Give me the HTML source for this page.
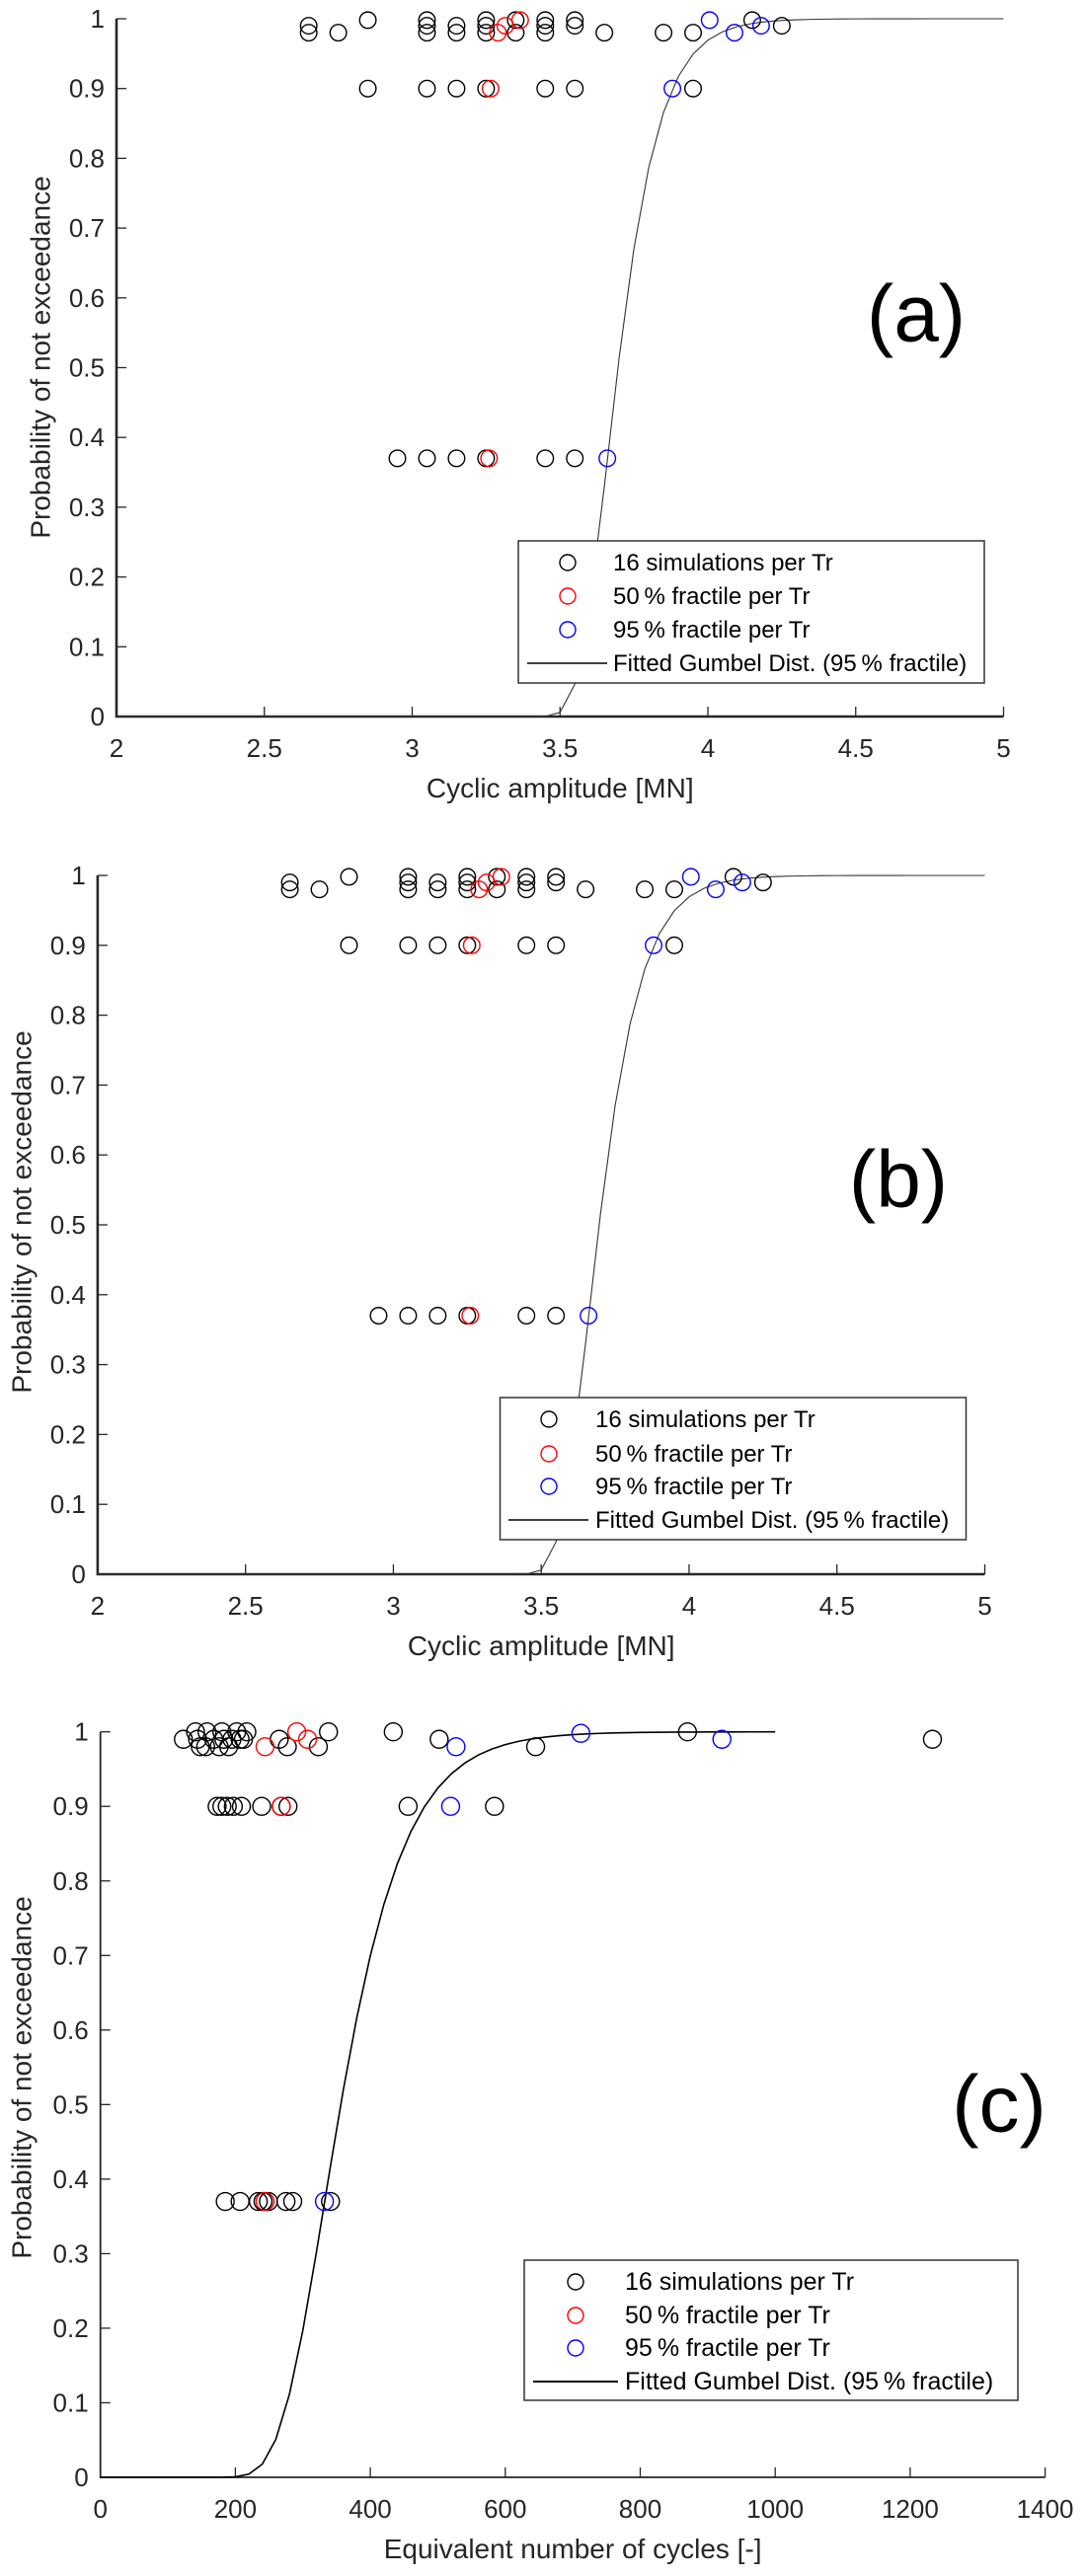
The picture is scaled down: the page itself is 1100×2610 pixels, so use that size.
<!DOCTYPE html>
<html>
<head>
<meta charset="utf-8">
<style>
  html,body{margin:0;padding:0;background:#fff;}
  svg{display:block;font-family:"Liberation Sans",Arial,sans-serif;}
</style>
</head>
<body>
<svg id="fig" width="1100" height="2610" viewBox="0 0 1100 2610" xmlns="http://www.w3.org/2000/svg"></svg>
<script>
// ---------- Panel (a) / (b) data: cyclic amplitude [MN] ----------
const ampSimX = [2.65,2.65,2.75,2.85,2.85,3.05,3.05,3.05,3.05,3.05,3.15,3.15,3.15,3.15,3.25,3.25,3.25,3.25,3.25,3.35,3.35,3.45,3.45,3.45,3.45,3.45,3.55,3.55,3.55,3.55,3.65,3.85,3.95,3.95,4.15,4.25,2.95];
const ampSimP = [0.99,0.98,0.98,0.998,0.9,0.998,0.99,0.98,0.9,0.37,0.99,0.98,0.9,0.37,0.998,0.99,0.98,0.9,0.37,0.998,0.98,0.998,0.99,0.98,0.9,0.37,0.998,0.99,0.9,0.37,0.98,0.98,0.98,0.9,0.998,0.99,0.37];
const amp50X = [3.265,3.29,3.315,3.365,3.26];
const amp50P = [0.9,0.98,0.99,0.998,0.37];
const amp95X = [3.66,3.88,4.09,4.18,4.006];
const amp95P = [0.37,0.9,0.98,0.99,0.998];
const ampGumbel = [3.66, 0.098]; // location, scale of fitted Gumbel
const ampXTicks = [2,2.5,3,3.5,4,4.5,5];
const ampXTickLabels = ["2","2.5","3","3.5","4","4.5","5"];

// ---------- Panel (c) data: equivalent number of cycles ----------
const cycSimX = [123,141,144,148,158,156,168,176,180,183,190,195,202,207,212,217,265,277,323,338,434,502,645,870,1233,
                 173,180,188,197,209,239,268,278,456,584,
                 185,207,234,241,249,275,285,341];
const cycSimP = [0.99,1.0,0.99,0.98,1.0,0.98,0.99,0.98,1.0,0.99,0.98,0.99,1.0,0.99,0.99,1.0,0.99,0.98,0.98,1.0,1.0,0.99,0.98,1.0,0.99,
                 0.9,0.9,0.9,0.9,0.9,0.9,0.9,0.9,0.9,0.9,
                 0.37,0.37,0.37,0.37,0.37,0.37,0.37,0.37];
const cyc50X = [244,291,307,268,244];
const cyc50P = [0.98,1.0,0.99,0.9,0.37];
const cyc95X = [332,519,527,712,921];
const cyc95P = [0.37,0.9,0.98,0.998,0.99];
const cycGumbel = [332, 66];
const cycXTicks = [0,200,400,600,800,1000,1200,1400];
const cycXTickLabels = ["0","200","400","600","800","1000","1200","1400"];

const yTicks = [0,0.1,0.2,0.3,0.4,0.5,0.6,0.7,0.8,0.9,1];
const yTickLabels = ["0","0.1","0.2","0.3","0.4","0.5","0.6","0.7","0.8","0.9","1"];

const NS = "http://www.w3.org/2000/svg";
const svg = document.getElementById('fig');
function mk(tag, attrs, parent, text){
  const e = document.createElementNS(NS, tag);
  for (const k in attrs) e.setAttribute(k, attrs[k]);
  if (text !== undefined) e.textContent = text;
  (parent || svg).appendChild(e);
  return e;
}

function panel(cfg){
  const g = mk('g', {});
  
  
  const sx = v => cfg.x0 + (v - cfg.xmin) / (cfg.xmax - cfg.xmin) * (cfg.x1 - cfg.x0);
  const sy = v => cfg.y0 - v * (cfg.y0 - cfg.y1);
  const axCol = '#262626';

  const ax = mk('path', {d:`M${cfg.x0},${cfg.y1} L${cfg.x0},${cfg.y0} L${cfg.x1},${cfg.y0}`, fill:'none', stroke:axCol, 'stroke-width':cfg.axw}, g);
  
  

  yTicks.forEach((t,i)=>{
    const y = sy(t);
    mk('line', {x1:cfg.x0, x2:cfg.x0+10, y1:y, y2:y, stroke:axCol, 'stroke-width':1.3}, g);
    const lab = mk('text', {x:cfg.x0-12, y:y+9, 'text-anchor':'end', 'font-size':26, fill:axCol}, g, yTickLabels[i]);
    
    
  });
  cfg.xticks.forEach((t,i)=>{
    const x = sx(t);
    mk('line', {x1:x, x2:x, y1:cfg.y0, y2:cfg.y0-10, stroke:axCol, 'stroke-width':1.3}, g);
    const lab = mk('text', {x:x, y:cfg.y0+41, 'text-anchor':'middle', 'font-size':26, fill:axCol}, g, cfg.xlabels[i]);
    
    
  });
  const xt = mk('text', {x:(cfg.x0+cfg.x1)/2, y:cfg.y0+82, 'text-anchor':'middle', 'font-size':28, fill:axCol}, g, cfg.xtitle);
  
  
  const yt = mk('text', {x:0, y:0, 'text-anchor':'middle', 'dominant-baseline':'central', 'font-size':28, fill:axCol,
    transform:`translate(${cfg.ylx},${cfg.yly}) rotate(-90)`}, g, 'Probability of not exceedance');
  
  

  const mu = cfg.gumbel[0], beta = cfg.gumbel[1];
  let d = '';
  const n = Math.round((cfg.cx1 - cfg.xmin) / cfg.step);
  for (let i=0;i<=n;i++){
    const xv = cfg.xmin + i*cfg.step;
    const F = Math.exp(-Math.exp(-(xv-mu)/beta));
    d += (i?'L':'M') + sx(xv).toFixed(2) + ',' + sy(F).toFixed(2);
  }
  const cur = mk('path', {d:d, fill:'none', stroke:cfg.curveCol, 'stroke-width':cfg.curveW}, g);
  
  

  function series(xs, ps, col, nm){
    const sg = mk('g', {}, g);
    
    
    xs.forEach((xv,i)=>{
      const c = mk('ellipse', {cx:sx(xv), cy:sy(ps[i]), rx:cfg.r, ry:cfg.r, fill:'none', stroke:col, 'stroke-width':1.4}, sg);
      
      
    });
  }
  series(cfg.simX, cfg.simP, '#000', 'simulations-series');
  series(cfg.f50X, cfg.f50P, '#ff0000', 'fractile-50-series');
  series(cfg.f95X, cfg.f95P, '#0000ff', 'fractile-95-series');

  const L = cfg.leg;
  const lg = mk('g', {}, g);
  
  
  mk('rect', {x:L.x, y:L.y, width:L.w, height:L.h, fill:'#fff', stroke:'#333', 'stroke-width':1.5}, lg);
  const labels = ['16 simulations per Tr', '50\u2009% fractile per Tr', '95\u2009% fractile per Tr', 'Fitted Gumbel Dist. (95\u2009% fractile)'];
  const cols = ['#000','#ff0000','#0000ff'];
  labels.forEach((t,i)=>{
    const yc = L.rows[i];
    if (i<3){
      const m = mk('circle', {cx:L.mx, cy:yc, r:8, fill:'none', stroke:cols[i], 'stroke-width':1.4}, lg);
      
      
    } else {
      const m = mk('line', {x1:L.lx0, x2:L.lx1, y1:yc, y2:yc, stroke:'#000', 'stroke-width':cfg.curveW+0.5}, lg);
      
      
    }
    const te = mk('text', {x:L.tx, y:yc+8, 'font-size':L.fs, fill:'#000'}, lg, t);
    
    
  });

  const tag = mk('text', {x:cfg.tag[0], y:cfg.tag[1], 'text-anchor':'middle', 'dominant-baseline':'central', 'font-size':82, fill:'#000'}, g, cfg.tag[2]);
  
  
}

panel({name:'panel-a', x0:118, x1:1016.5, y0:726, y1:19, xmin:2, xmax:5, axw:2.6,
  xticks:ampXTicks, xlabels:ampXTickLabels, xtitle:'Cyclic amplitude [MN]', ylx:41, yly:362,
  gumbel:ampGumbel, cx1:5, step:0.05, curveCol:'#333', curveW:1.1, r:8.3,
  simX:ampSimX, simP:ampSimP, f50X:amp50X, f50P:amp50P, f95X:amp95X, f95P:amp95P,
  leg:{x:525, y:548, w:472, h:144, rows:[570,604,638,672], mx:575, tx:621, lx0:534, lx1:615, fs:24},
  tag:[928, 318, '(a)']});

panel({name:'panel-b', x0:98.9, x1:997.5, y0:1595, y1:887, xmin:2, xmax:5, axw:2.6,
  xticks:ampXTicks, xlabels:ampXTickLabels, xtitle:'Cyclic amplitude [MN]', ylx:22, yly:1228,
  gumbel:ampGumbel, cx1:5, step:0.05, curveCol:'#333', curveW:1.1, r:8.3,
  simX:ampSimX, simP:ampSimP, f50X:amp50X, f50P:amp50P, f95X:amp95X, f95P:amp95P,
  leg:{x:506.5, y:1416, w:472, h:144, rows:[1438,1473,1506,1540], mx:556, tx:603, lx0:515, lx1:596, fs:24},
  tag:[910, 1195, '(b)']});

panel({name:'panel-c', x0:101.7, x1:1058.6, y0:2510, y1:1754.7, xmin:0, xmax:1400, axw:1.8,
  xticks:cycXTicks, xlabels:cycXTickLabels, xtitle:'Equivalent number of cycles [-]', ylx:22, yly:2105,
  gumbel:cycGumbel, cx1:1000, step:20, curveCol:'#000', curveW:1.6, r:9,
  simX:cycSimX, simP:cycSimP, f50X:cyc50X, f50P:cyc50P, f95X:cyc95X, f95P:cyc95P,
  leg:{x:531, y:2290, w:500, h:142, rows:[2312,2346,2379,2413], mx:583, tx:633, lx0:540, lx1:626, fs:25},
  tag:[1012, 2132, '(c)']});
</script>
</body>
</html>
